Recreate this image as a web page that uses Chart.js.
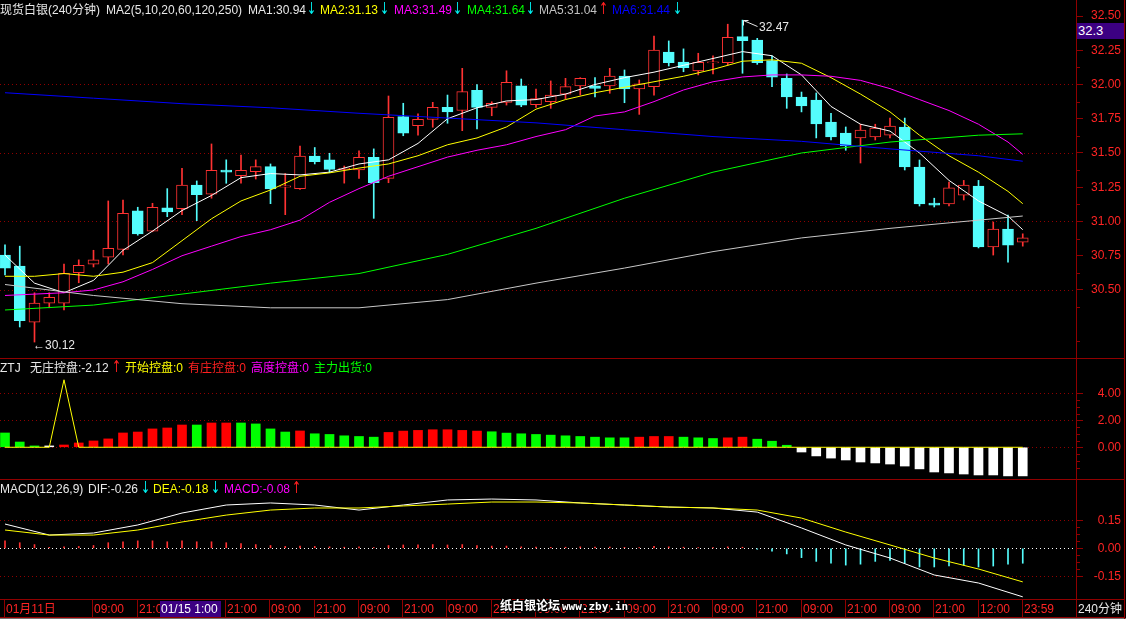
<!DOCTYPE html>
<html>
<head>
<meta charset="utf-8">
<title>现货白银(240分钟)</title>
<script src="https://cdn.jsdelivr.net/npm/chart.js@4.4.1/dist/chart.umd.min.js"></script>
<style>
  html, body { margin: 0; padding: 0; background: #000; }
  body { position: relative; width: 1126px; height: 619px; overflow: hidden;
         font-family: "Liberation Sans", "Noto Sans CJK SC", sans-serif; font-size: 12px; }
  canvas { position: absolute; left: 0; }
  .t { position: absolute; white-space: nowrap; line-height: 14px; }
  .ar { transform: scale(1, 1.5); transform-origin: 50% 60%; font-family: "DejaVu Sans", sans-serif; font-size: 11px; }
  .ln { position: absolute; background: #900000; }
</style>
</head>
<body>
<canvas id="cMain" width="1121" height="358" style="top:0px"></canvas>
<canvas id="cZtj" width="1121" height="120" style="top:359px"></canvas>
<canvas id="cMacd" width="1121" height="119" style="top:480px"></canvas>
<script>
// 240 minute candles
const open  = [30.755,30.675,30.266,30.403,30.403,30.626,30.688,30.739,30.797,31.077,
               30.93,31.10,31.093,31.266,31.20,31.376,31.334,31.364,31.40,31.25,
               31.24,31.478,31.45,31.38,31.376,31.468,31.315,31.765,31.70,31.746,
               31.833,31.81,31.958,31.833,31.87,31.99,31.853,31.875,31.93,31.99,
               31.99,31.99,32.062,31.967,31.984,32.237,32.164,32.10,32.158,32.159,
               32.349,32.325,32.174,32.045,31.909,31.887,31.726,31.646,31.61,31.617,
               31.63,31.69,31.398,31.135,31.128,31.193,31.259,30.814,30.945,30.85];
const high  = [30.83,30.82,30.48,30.48,30.69,30.72,30.79,31.15,31.157,31.104,
               31.133,31.24,31.388,31.296,31.566,31.45,31.485,31.45,31.42,31.35,
               31.55,31.54,31.498,31.405,31.515,31.53,31.916,31.863,31.785,31.87,
               31.923,32.118,32.0,31.874,32.10,32.04,31.967,32.026,32.045,32.05,
               32.05,32.118,32.106,32.033,32.354,32.318,32.26,32.228,32.21,32.44,
               32.47,32.337,32.21,32.077,31.945,31.938,31.79,31.69,31.71,31.71,
               31.755,31.755,31.449,31.17,31.288,31.30,31.30,30.996,31.047,30.91];
const low   = [30.61,30.23,30.12,30.37,30.354,30.553,30.668,30.69,30.756,30.90,
               30.925,31.035,31.05,31.006,31.17,31.279,31.28,31.31,31.13,31.05,
               31.235,31.42,31.356,31.28,31.315,31.023,31.283,31.626,31.63,31.688,
               31.717,31.663,31.675,31.772,31.85,31.838,31.833,31.826,31.894,31.923,
               31.91,31.936,31.867,31.782,31.923,32.135,32.093,32.07,32.077,32.142,
               32.082,32.147,31.984,31.826,31.80,31.61,31.595,31.52,31.427,31.595,
               31.61,31.376,31.113,31.106,31.113,31.157,30.807,30.755,30.704,30.82];
const close = [30.66,30.276,30.405,30.447,30.622,30.68,30.72,30.804,31.06,30.909,
               31.104,31.07,31.266,31.196,31.374,31.36,31.374,31.40,31.237,31.26,
               31.478,31.436,31.38,31.39,31.468,31.283,31.76,31.644,31.746,31.833,
               31.80,31.948,31.833,31.863,32.016,31.85,31.897,31.923,31.984,32.045,
               31.972,32.062,31.967,32.004,32.252,32.159,32.123,32.162,32.166,32.344,
               32.32,32.159,32.053,31.91,31.843,31.712,31.617,31.551,31.668,31.682,
               31.697,31.398,31.128,31.12,31.245,31.266,30.814,30.945,30.828,30.88];

// moving averages (candle index -> value)
const fastIdx = [0,2,4,6,8,10,12,14,16,18,20,22,24,26,28,30,32,34,36,38,40,42,44,46,48,50,52,54,56,58,60,62,64,66,68,69];
const ma5  = [30.755,30.55,30.48,30.57,30.79,30.93,31.08,31.19,31.32,31.35,31.34,31.36,31.42,31.45,31.57,31.75,31.83,31.88,
              31.89,31.93,32.00,32.05,32.09,32.14,32.19,32.24,32.21,32.07,31.84,31.71,31.66,31.50,31.30,31.15,31.04,30.94];
const ma10 = [30.60,30.60,30.62,30.60,30.63,30.70,30.86,31.02,31.15,31.23,31.33,31.355,31.39,31.42,31.48,31.56,31.61,31.69,
              31.82,31.89,31.94,31.98,32.02,32.06,32.11,32.17,32.18,32.155,32.05,31.93,31.80,31.63,31.48,31.36,31.22,31.13];
const ma20 = [30.46,30.47,30.48,30.50,30.56,30.65,30.75,30.82,30.89,30.94,31.01,31.14,31.24,31.33,31.40,31.47,31.52,31.56,
              31.62,31.67,31.77,31.80,31.875,31.96,32.02,32.055,32.07,32.07,32.06,32.03,31.97,31.89,31.81,31.71,31.58,31.49];
const slowIdx = [0,6,12,18,24,30,36,42,48,54,60,66,69];
const ma60  = [30.354,30.39,30.47,30.55,30.62,30.76,30.95,31.17,31.36,31.50,31.58,31.63,31.64];
const ma120 = [30.54,30.46,30.40,30.37,30.37,30.43,30.55,30.66,30.78,30.88,30.95,31.01,31.04];
const ma250 = [31.94,31.90,31.86,31.83,31.79,31.755,31.72,31.67,31.62,31.585,31.53,31.48,31.44];
const priceTicks = [30.50,30.75,31.00,31.25,31.50,31.75,32.00,32.25,32.50];

// ZTJ panel
const ztjVals = [1.06,0.39,0.10,0.10,0.17,0.32,0.47,0.62,1.06,1.13,
                 1.36,1.43,1.65,1.65,1.80,1.80,1.80,1.73,1.36,1.13,
                 1.21,1.00,0.95,0.85,0.80,0.75,1.10,1.20,1.25,1.30,
                 1.30,1.25,1.20,1.15,1.05,1.00,0.95,0.90,0.85,0.80,
                 0.75,0.70,0.70,0.75,0.80,0.80,0.75,0.70,0.65,0.70,
                 0.75,0.60,0.45,0.15,-0.35,-0.64,-0.80,-0.94,-1.09,-1.16,
                 -1.24,-1.39,-1.60,-1.83,-1.90,-1.98,-2.05,-2.05,-2.12,-2.12];
const ztjKind = ['G','G','G','W','R','R','R','R','R','R',
                 'R','R','R','G','R','R','G','G','G','G',
                 'R','G','G','G','G','G','R','R','R','R',
                 'R','R','R','G','G','G','G','G','G','G',
                 'G','G','G','R','R','R','G','G','G','R',
                 'R','G','G','G','W','W','W','W','W','W',
                 'W','W','W','W','W','W','W','W','W','W'];
const ztjLine = [0,0,0,0,5.0,0,0,0,0,0, 0,0,0,0,0,0,0,0,0,0, 0,0,0,0,0,0,0,0,0,0,
                 0,0,0,0,0,0,0,0,0,0, 0,0,0,0,0,0,0,0,0,0, 0,0,0,0,0,0,0,0,0,0,
                 0,0,0,0,0,0,0,0,0,0];
const ztjTicks = [0,2,4];

// MACD panel
const macdHist = [0.04,0.03,0.02,0.005,0.008,0.01,0.015,0.03,0.035,0.04,
                  0.04,0.035,0.04,0.035,0.035,0.03,0.025,0.02,0.015,0.01,
                  0.012,0.01,0.008,0.006,0.008,0.004,0.015,0.018,0.018,0.02,
                  0.018,0.02,0.015,0.012,0.012,0.008,0.006,0.005,0.006,0.008,
                  0.006,0.007,0.005,0.004,0.01,0.008,0.006,0.004,0.004,0.008,
                  0.006,-0.005,-0.015,-0.03,-0.05,-0.07,-0.08,-0.09,-0.085,-0.07,
                  -0.065,-0.08,-0.10,-0.10,-0.095,-0.09,-0.10,-0.095,-0.085,-0.08];
const macdIdx = [0,3,6,9,12,15,18,21,24,27,30,33,36,39,42,45,48,51,54,57,60,63,66,69];
const dif = [0.130,0.071,0.082,0.125,0.189,0.232,0.243,0.232,0.205,0.232,0.259,0.264,
             0.259,0.243,0.232,0.221,0.216,0.194,0.109,0.018,-0.052,-0.143,-0.186,-0.26];
const dea = [0.098,0.071,0.071,0.098,0.141,0.178,0.205,0.216,0.216,0.227,0.237,0.248,
             0.248,0.243,0.232,0.221,0.216,0.205,0.162,0.087,0.018,-0.052,-0.111,-0.18];
const macdTicks = [-0.15,0,0.15];

// time axis
const timeIdx = [0,6,9,12,15,18,21,24,27,30,33,36,39,42,45,48,51,54,57,60,63,66,69];
const timeLabels = ['01月11日','09:00','21:00','09:00','21:00','09:00','21:00','09:00','21:00','09:00','21:00','09:00',
                    '21:00','09:00','21:00','09:00','21:00','09:00','21:00','09:00','21:00','12:00','23:59'];

const CYAN = '#54fcfc', RED = '#ff3232', AXIS = '#900000', LBL = '#ff2424';
const FONT = '"Liberation Sans","Noto Sans CJK SC",sans-serif';
const X_MIN = -5 / 14.75, X_MAX = (1076 - 5) / 14.75;
const idx = open.map((_, i) => i);
const up = i => close[i] >= open[i];

// dotted grid lines and small ticks
const deco = {
  id: 'deco',
  beforeDatasetsDraw(chart, args, opts) {
    const {ctx, chartArea: a, scales: {y}} = chart;
    ctx.save();
    ctx.lineWidth = 1;
    ctx.setLineDash([1, 3]);
    (opts.dots || []).forEach(d => {
      const py = Math.round(y.getPixelForValue(d.v)) + 0.5;
      ctx.strokeStyle = d.c;
      ctx.beginPath(); ctx.moveTo(a.left, py); ctx.lineTo(a.right, py); ctx.stroke();
    });
    ctx.setLineDash([]);
    ctx.strokeStyle = AXIS;
    (opts.minor || []).forEach(v => {
      const py = Math.round(y.getPixelForValue(v)) + 0.5;
      ctx.beginPath(); ctx.moveTo(a.right, py); ctx.lineTo(a.right + 4, py); ctx.stroke();
    });
    ctx.restore();
  }
};

// arrow pointing at the highest high
const marks = {
  id: 'marks',
  afterDatasetsDraw(chart) {
    const {ctx, scales: {x, y}} = chart;
    const hi = high.indexOf(Math.max(...high));
    const hx = Math.round(x.getPixelForValue(hi)) + 0.5, hy = Math.round(y.getPixelForValue(high[hi])) + 0.5;
    ctx.save();
    ctx.strokeStyle = '#e8e8e8'; ctx.lineWidth = 1;
    ctx.beginPath();
    ctx.moveTo(hx, hy); ctx.lineTo(hx + 14, hy + 6);
    ctx.moveTo(hx, hy); ctx.lineTo(hx + 5, hy);
    ctx.moveTo(hx, hy); ctx.lineTo(hx, hy + 5);
    ctx.stroke();
    ctx.restore();
  }
};

const yAxis = (min, max, ticks, pad) => ({
  position: 'right', min, max,
  afterFit(s) { s.width = 45; s.paddingTop = 0; s.paddingBottom = 0; },
  afterBuildTicks(s) { s.ticks = ticks.map(v => ({ value: v })); },
  ticks: { color: LBL, font: { family: FONT, size: 12 }, padding: pad, crossAlign: 'far',
           callback: v => Number(v).toFixed(2) },
  grid: { drawOnChartArea: false, drawTicks: true, tickLength: 7, color: AXIS },
  border: { display: true, color: AXIS }
});
const xAxis = { type: 'linear', min: X_MIN, max: X_MAX, display: false, offset: false };
const base = { responsive: false, animation: false, events: [],
               layout: { padding: 0 } };

const lineSet = (xs, ys, color) => ({
  type: 'line', data: xs.map((v, k) => ({ x: v, y: ys[k] })),
  borderColor: color, borderWidth: 1, pointRadius: 0, tension: 0, order: -1
});

const mainChart = new Chart(document.getElementById('cMain'), {
  type: 'bar',
  data: { datasets: [
    { data: idx.map(i => ({ x: i, y: [open[i], close[i]] })),
      backgroundColor: idx.map(i => up(i) ? '#000000' : CYAN),
      borderColor: idx.map(i => up(i) ? RED : CYAN),
      borderWidth: 1, borderSkipped: false, barThickness: 11, minBarLength: 1, grouped: false, order: 0 },
    { data: idx.map(i => ({ x: i, y: [low[i], high[i]] })),
      backgroundColor: idx.map(i => up(i) ? RED : CYAN),
      barThickness: 1, grouped: false, order: 1 },
    lineSet(slowIdx, ma250, '#0000ff'),
    lineSet(slowIdx, ma120, '#c8c8c8'),
    lineSet(slowIdx, ma60, '#00ff00'),
    lineSet(fastIdx, ma20, '#ff00ff'),
    lineSet(fastIdx, ma10, '#ffff00'),
    lineSet(fastIdx, ma5, '#ffffff')
  ]},
  options: { ...base,
    scales: { x: xAxis, y: yAxis(30.0036, 32.6168, priceTicks, 8) },
    plugins: { legend: { display: false }, tooltip: { enabled: false },
      deco: { dots: [30.5, 31, 31.5, 32].map(v => ({ v, c: AXIS })),
              minor: [30.125,30.375,30.625,30.875,31.125,31.375,31.625,31.875,32.125,32.375] } } },
  plugins: [deco, marks]
});

const ztjColor = { R: '#ff0000', G: '#00ff00', W: '#ffffff' };
const ztjChart = new Chart(document.getElementById('cZtj'), {
  type: 'bar',
  data: { datasets: [
    { data: ztjVals.map((v, i) => ({ x: i, y: v })), backgroundColor: ztjKind.map(k => ztjColor[k]),
      barThickness: 9, grouped: false, order: 1 },
    { type: 'line', data: ztjLine.map((v, i) => ({ x: i, y: v })), borderColor: '#ffff00',
      borderWidth: 1, pointRadius: 0, order: 0 }
  ]},
  options: { ...base,
    scales: { x: xAxis, y: yAxis(-2.35, 6.54, ztjTicks, 15) },
    plugins: { legend: { display: false }, tooltip: { enabled: false },
      deco: { dots: [0, 2, 4].map(v => ({ v, c: AXIS })),
              minor: [-1.5,-1,-0.5,0.5,1,1.5,2.5,3,3.5] } } },
  plugins: [deco]
});

const macdChart = new Chart(document.getElementById('cMacd'), {
  type: 'bar',
  data: { datasets: [
    { data: macdHist.map((v, i) => ({ x: i, y: v })), backgroundColor: macdHist.map(v => v >= 0 ? RED : CYAN),
      barThickness: 1, grouped: false, order: 1 },
    lineSet(macdIdx, dea, '#ffff00'),
    lineSet(macdIdx, dif, '#ffffff')
  ]},
  options: { ...base,
    scales: { x: xAxis, y: yAxis(-0.2716, 0.366, macdTicks, 11) },
    plugins: { legend: { display: false }, tooltip: { enabled: false },
      deco: { dots: [{ v: 0.15, c: AXIS }, { v: -0.15, c: AXIS }, { v: 0, c: '#ffffff' }],
              minor: [0.1125,0.075,0.0375,-0.0375,-0.075,-0.1125] } } },
  plugins: [deco]
});

// ---- text and frame ----
function txt(x, y, s, color, extra) {
  const d = document.createElement('div');
  d.className = 't';
  d.style.left = x + 'px'; d.style.top = y + 'px'; d.style.color = color;
  d.textContent = s;
  if (extra) Object.assign(d.style, extra);
  document.body.appendChild(d);
  return d;
}
function arrow(x, y, s, color) {
  txt(x, y, s, color).classList.add('ar');
}
function rule(x, y, w, h, c) {
  const d = document.createElement('div');
  d.className = 'ln';
  Object.assign(d.style, { left: x + 'px', top: y + 'px', width: w + 'px', height: h + 'px' });
  if (c) d.style.background = c;
  document.body.appendChild(d);
}
const last = a => a[a.length - 1].toFixed(2);
const WH = '#e8e8e8', UPA = '#ff2020', DNA = '#00f0f0';

// header rows
txt(0, 3, '现货白银(240分钟)', WH);
txt(106, 3, 'MA2(5,10,20,60,120,250)', WH);
txt(248, 3, 'MA1:' + last(ma5), WH);   arrow(307, 3, '↓', DNA);
txt(320, 3, 'MA2:' + last(ma10), '#ffff00'); arrow(380, 3, '↓', DNA);
txt(394, 3, 'MA3:' + last(ma20), '#ff00ff'); arrow(453, 3, '↓', DNA);
txt(467, 3, 'MA4:' + last(ma60), '#00ff00'); arrow(526, 3, '↓', DNA);
txt(539, 3, 'MA5:' + last(ma120), '#c0c0c0'); arrow(599, 3, '↑', UPA);
txt(612, 3, 'MA6:' + last(ma250), '#0000ff'); arrow(673, 3, '↓', DNA);

txt(0, 361, 'ZTJ', WH);
txt(30, 361, '无庄控盘:' + last(ztjVals), WH); arrow(112, 361, '↑', UPA);
txt(125, 361, '开始控盘:0', '#ffff00');
txt(188, 361, '有庄控盘:0', '#ff2020');
txt(251, 361, '高度控盘:0', '#ff00ff');
txt(314, 361, '主力出货:0', '#00ff00');

txt(0, 482, 'MACD(12,26,9)', WH);
txt(88, 482, 'DIF:' + last(dif), WH); arrow(141, 482, '↓', DNA);
txt(153, 482, 'DEA:' + last(dea), '#ffff00'); arrow(211, 482, '↓', DNA);
txt(224, 482, 'MACD:' + last(macdHist), '#ff00ff'); arrow(292, 482, '↑', UPA);

// extreme price labels
{
  const xs = mainChart.scales.x, ys = mainChart.scales.y;
  const hi = high.indexOf(Math.max(...high)), lo = low.indexOf(Math.min(...low));
  txt(Math.round(xs.getPixelForValue(hi)) + 16, Math.round(ys.getPixelForValue(high[hi])), high[hi].toFixed(2), WH);
  txt(Math.round(xs.getPixelForValue(lo)) - 2, Math.round(ys.getPixelForValue(low[lo])) - 4, '←' + low[lo].toFixed(2), WH);
}

// frame lines
rule(0, 358, 1125, 1); rule(0, 479, 1125, 1); rule(0, 599, 1125, 1); rule(0, 617, 1125, 1);
rule(0, 618, 1126, 1, '#707070');
rule(1076, 0, 1, 618); rule(1124, 0, 1, 619);

// time axis row
{
  const xs = macdChart.scales.x;
  timeIdx.forEach((v, k) => {
    const px = Math.round(xs.getPixelForValue(v));
    rule(px - 1, 600, 1, 17);
    txt(px + 1, 602, timeLabels[k], LBL);
  });
}
txt(1078, 602, '240分钟', WH);
txt(160, 601, '01/15  1:00', '#ffffff', { background: '#3c0082', width: '61px', height: '16px', lineHeight: '16px', paddingLeft: '1px', boxSizing: 'border-box' });
txt(1077, 23, '32.3', '#ffffff', { background: '#3c0082', width: '47px', height: '16px', lineHeight: '16px', paddingLeft: '1px', boxSizing: 'border-box', fontSize: '13px' });

// forum watermark
const outline = '1px 0 #000,-1px 0 #000,0 1px #000,0 -1px #000,1px 1px #000,-1px -1px #000,1px -1px #000,-1px 1px #000';
txt(500, 599, '纸白银论坛', '#ffffff', { fontWeight: 'bold', fontSize: '12px', textShadow: outline });
txt(562, 600, 'www.zby.in', '#ffffff', { fontWeight: 'bold', fontSize: '11px', fontFamily: '"DejaVu Sans Mono",monospace', textShadow: outline });
</script>
</body>
</html>
